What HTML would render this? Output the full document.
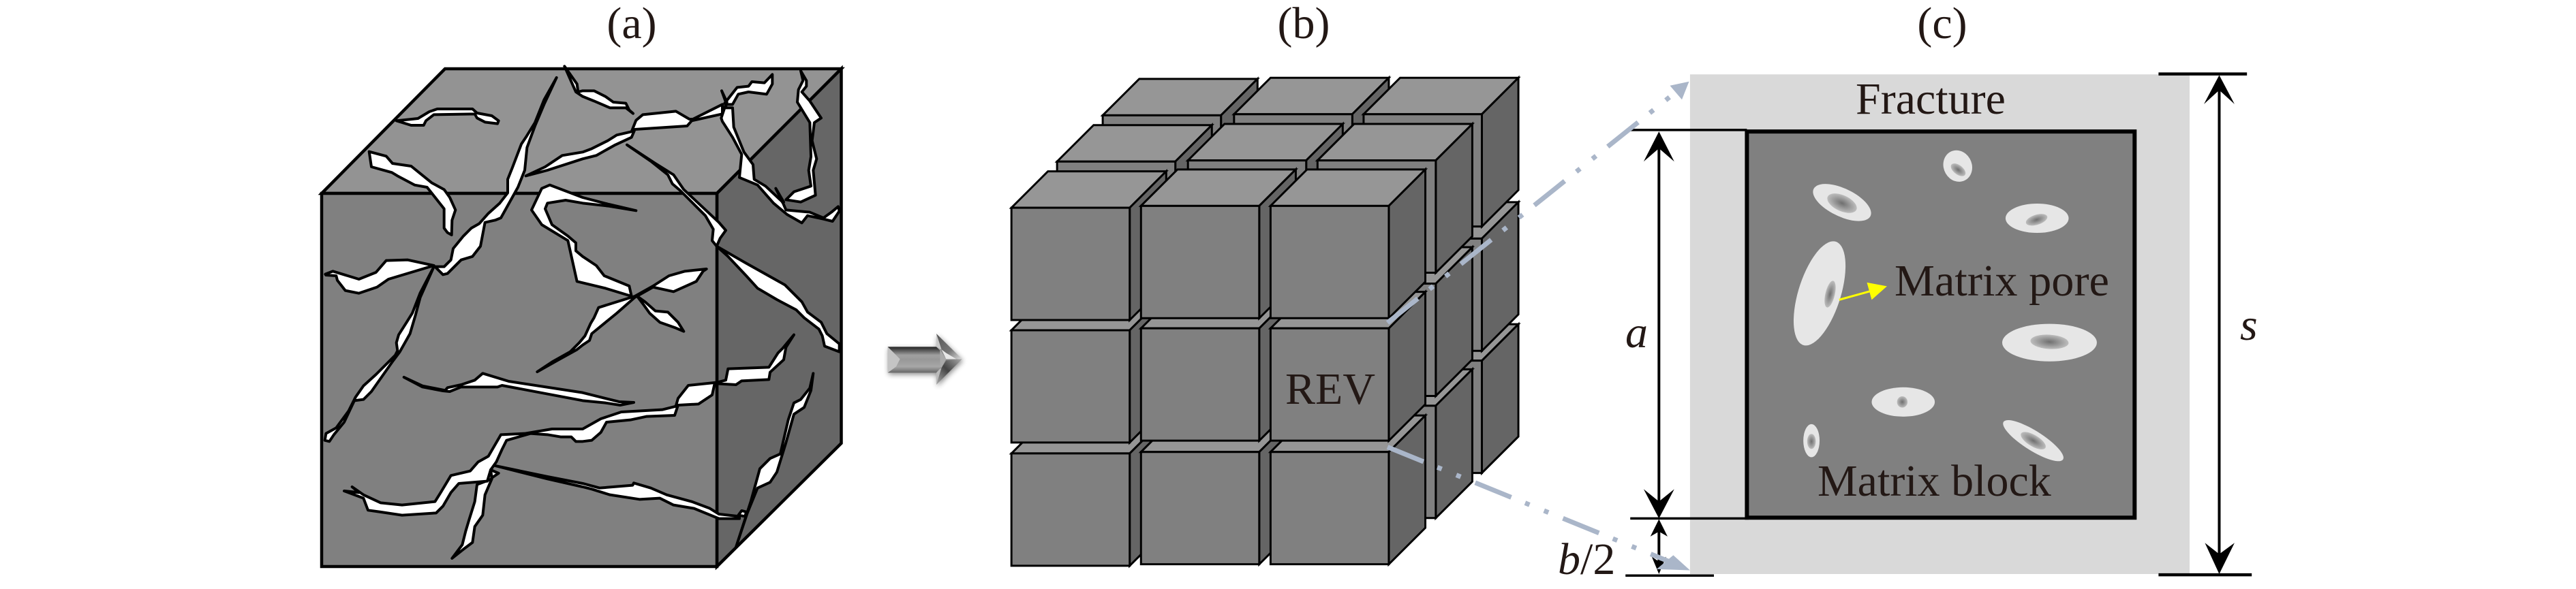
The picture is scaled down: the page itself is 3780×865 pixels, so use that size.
<!DOCTYPE html>
<html><head><meta charset="utf-8"><style>
html,body{margin:0;padding:0;background:#fff}
svg{display:block}
text{font-family:"Liberation Serif",serif;fill:#231815;font-size:66px}
.f polygon{fill:#fff;stroke:#000;stroke-width:4;stroke-linejoin:round;vector-effect:non-scaling-stroke}
.c polygon,.c rect{stroke:#000;stroke-width:3;stroke-linejoin:miter;vector-effect:non-scaling-stroke}
.k line{stroke:#000;vector-effect:non-scaling-stroke}
.k polygon{fill:#000}
.o{fill:#e6e6e6}
.i{fill:url(#rg)}
</style></head><body>
<svg xmlns="http://www.w3.org/2000/svg" width="3780" height="865" viewBox="0 0 3780 865">
<defs>
<g id="cube" class="c">
<polygon fill="#969696" points="0,0 84,-97 356,-97 272,0"/>
<polygon fill="#656565" points="272,0 356,-97 356,202 272,299"/>
<rect fill="#808080" x="0" y="0" width="272" height="299"/>
</g>
<radialGradient id="rg"><stop offset="0" stop-color="#6f6f6f"/><stop offset="1" stop-color="#bdbdbd"/></radialGradient>
<linearGradient id="t1" x1="0" y1="0" x2="0" y2="1"><stop offset="0" stop-color="#222"/><stop offset="1" stop-color="#a0a0a0"/></linearGradient>
<linearGradient id="t2" x1="0" y1="0" x2="0" y2="1"><stop offset="0" stop-color="#b0b0b0"/><stop offset=".5" stop-color="#989898"/><stop offset="1" stop-color="#b4b4b4"/></linearGradient>
<linearGradient id="t3" x1="0" y1="0" x2="0" y2="1"><stop offset="0" stop-color="#a8a8a8"/><stop offset="1" stop-color="#666"/></linearGradient>
<linearGradient id="t4" x1="0" y1="0" x2="1" y2="1"><stop offset="0" stop-color="#555"/><stop offset=".6" stop-color="#777"/><stop offset="1" stop-color="#ddd"/></linearGradient>
<linearGradient id="t5" x1="0" y1="1" x2="1" y2="0"><stop offset="0" stop-color="#aaa"/><stop offset=".5" stop-color="#444"/><stop offset="1" stop-color="#aaa"/></linearGradient>
<filter id="bl" x="-30%" y="-30%" width="160%" height="160%"><feGaussianBlur stdDeviation="12"/></filter>
</defs>

<!-- Panel a -->
<g stroke="#000" stroke-width="4.5" stroke-linejoin="miter">
<polygon fill="#939393" points="472,284 653,101 1234.5,101 1052,284"/>
<polygon fill="#666666" points="1052,284 1234.5,101 1234.5,651 1052,832"/>
<rect fill="#808080" x="472" y="284" width="580" height="548"/>
</g>
<g class="f" transform="translate(470,90) scale(.33333)">
<polygon points="335,262 430,252 480,222 515,210 670,210 690,228 755,240 785,262 780,275 725,268 690,250 680,232 500,235 465,262 455,282 400,282"/>
<polygon points="215,398 290,418 318,450 400,462 490,535 545,565 570,600 595,655 580,700 578,765 560,755 545,735 545,650 490,580 470,555 415,545 340,505 315,490 225,465"/>
<polygon points="1040,72 985,170 945,270 905,335 885,365 845,470 825,520 825,580 790,625 740,670 700,715 665,735 630,770 585,825 575,875 545,905 505,905 540,940 560,935 620,875 670,860 705,815 725,710 770,700 795,690 870,555 900,480 910,380 945,285 985,190"/>
<polygon points="500,905 440,1020 405,1110 380,1150 345,1205 335,1240 340,1275 330,1295 245,1380 190,1430 155,1480 125,1540 70,1615 25,1640 20,1670 40,1675 60,1645 105,1590 150,1495 190,1490 225,1455 320,1320 350,1280 395,1200 420,1115 440,1040"/>
<polygon points="22,938 55,925 170,960 245,930 290,878 385,875 500,900 300,960 250,995 170,1022 110,1010 75,965 70,945 25,942"/>
<polygon points="905,505 990,465 1065,415 1155,400 1195,385 1265,350 1305,325 1370,310 1390,260 1420,235 1565,220 1625,255 1640,255 1770,190 1770,232 1635,262 1615,285 1385,300 1370,335 1295,370 1215,415 1155,430 1000,480"/>
<polygon points="1075,22 1130,100 1135,135 1155,130 1205,130 1255,155 1290,180 1345,185 1360,215 1377,230 1345,205 1275,205 1205,175 1155,155 1125,135"/>
<polygon points="1780,185 1835,115 1885,110 1900,90 1955,95 1990,58 1990,100 1965,145 1885,135 1840,145 1815,190 1785,190"/>
<polygon points="1767,130 1785,180 1778,230 1790,180"/>
<polygon points="1765,250 1780,205 1815,205 1820,290 1865,400 1905,455 1910,520 1960,550 2035,620 2050,655 2155,665 2215,690 2250,665 2280,640 2285,660 2255,705 2215,695 2145,680 2120,712 2055,675 1995,625 1925,545 1845,512 1855,410 1815,335 1770,265"/>
<polygon points="2005,560 2040,620 2035,622"/>
<polygon points="2115,42 2140,85 2140,110 2120,135 2155,175 2205,250 2175,270 2165,350 2185,430 2170,480 2180,590 2115,620 2050,610 2085,575 2160,550 2150,480 2160,420 2155,270 2100,180 2105,125 2125,85"/>
<polygon points="1350,368 1475,450 1555,500 1600,565 1755,710 1785,745 1760,780 1745,815 1875,890 2045,985 2120,1060 2145,1105 2205,1150 2230,1200 2285,1245 2285,1280 2220,1255 2210,1210 2195,1180 2130,1130 2095,1095 2010,1050 1925,1000 1875,945 1795,860 1745,815 1725,790 1730,740 1695,680 1585,570 1550,540 1530,500 1455,440"/>
<polygon points="1390,658 1270,630 1155,600 1010,545 975,560 930,655 975,720 1090,790 1110,880 1130,970 1255,1000 1370,1035 1360,990 1250,945 1215,900 1155,860 1125,835 1125,800 1090,770 1020,720 990,650 1000,625 1080,612 1155,625 1270,638"/>
<polygon points="1700,915 1605,925 1535,945 1465,990 1385,1035 1225,1085 1205,1130 1190,1155 1165,1210 1140,1240 1100,1280 1020,1325 955,1368 1040,1320 1130,1270 1155,1250 1185,1230 1195,1200 1305,1110 1385,1040 1465,995 1555,1015 1655,970 1685,925"/>
<polygon points="1395,1035 1430,1060 1475,1100 1530,1105 1575,1150 1600,1190 1565,1175 1495,1150 1450,1110 1425,1075"/>
<polygon points="368,1392 450,1430 550,1450 560,1438 620,1425 680,1405 715,1375 830,1410 1155,1460 1215,1475 1315,1500 1380,1503 1320,1515 1255,1505 1155,1495 800,1428 780,1435 620,1435 570,1455 540,1452 450,1435"/>
<polygon points="690,1865 680,1940 655,2020 640,2070 625,2130 580,2190 630,2150 670,2120 680,2050 715,2000 725,1910 755,1840"/>
<polygon points="105,1893 170,1900 140,1875 190,1910 265,1945 360,1955 505,1940 530,1900 575,1825 660,1805 695,1765 740,1740 795,1645 900,1640 1020,1620 1155,1620 1235,1575 1325,1545 1505,1535 1565,1520 1575,1485 1620,1428 1745,1415 1785,1405 1795,1355 1975,1348 2015,1285 2035,1265 2085,1205 2050,1260 2040,1315 1980,1370 1975,1402 1855,1408 1830,1425 1745,1420 1735,1425 1725,1470 1665,1510 1575,1515 1560,1560 1435,1565 1365,1580 1260,1590 1235,1635 1195,1670 1155,1675 1125,1675 1105,1655 1060,1655 1000,1645 925,1640 820,1670 800,1710 775,1765 750,1800 735,1850 610,1860 575,1900 540,1960 510,1990 360,2000 260,1985 210,1978 190,1925"/>
<polygon points="750,1800 785,1815 755,1835"/>
<polygon points="770,1782 1000,1830 1155,1860 1230,1880 1375,1868 1380,1858 1455,1880 1525,1910 1635,1940 1715,1970 1755,1995 1845,2005 1845,2015 1755,2015 1645,1970 1555,1955 1495,1925 1405,1930 1275,1910 1195,1885 1155,1875 1000,1840"/>
<polygon points="2170,1375 2155,1440 2115,1490 2085,1505 2060,1580 2025,1730 1980,1750 1935,1795 1895,1940 1830,2140 1880,1990 1925,1880 1980,1855 2010,1810 2050,1680 2085,1555 2130,1525 2160,1450"/>
<polygon points="1840,2000 1855,1980 1875,1985 1870,2005"/>
</g>

<!-- Block arrow -->
<g transform="translate(1300,470) scale(.33333)">
<polygon points="8,118 222,118 222,60 335,172 222,285 222,232 8,232" fill="#000" opacity=".45" filter="url(#bl)" transform="translate(4,8)"/>
<rect x="8" y="118" width="230" height="114" fill="url(#t2)"/>
<polygon points="8,118 222,118 245,140 248,155 45,155" fill="url(#t1)"/>
<polygon points="8,232 45,205 245,205 222,232" fill="url(#t3)"/>
<polygon points="8,118 45,155 62,172 45,205 8,232" fill="#c4c4c4"/>
<polygon points="222,60 245,130 222,118" fill="#c8c8c8"/>
<polygon points="222,285 245,210 222,232" fill="#bbb"/>
<polygon points="222,60 335,172 265,172 245,130" fill="url(#t4)"/>
<polygon points="335,172 265,178 245,210 222,285" fill="url(#t5)"/>
<polygon points="238,130 265,172 245,210 238,205" fill="#aaa"/>
<polygon points="245,130 265,172 310,172 265,145" fill="#e8e8e8"/>
</g>

<!-- Panel b -->
<g transform="translate(1280,0) scale(.638,.5517)">
<use href="#cube" x="530" y="960"/><use href="#cube" x="832" y="960"/><use href="#cube" x="1130" y="960"/>
<use href="#cube" x="530" y="635"/><use href="#cube" x="832" y="635"/><use href="#cube" x="1130" y="635"/>
<use href="#cube" x="530" y="307"/><use href="#cube" x="832" y="304"/><use href="#cube" x="1130" y="304"/>
<use href="#cube" x="425" y="1080"/><use href="#cube" x="726" y="1080"/><use href="#cube" x="1024" y="1080"/>
<use href="#cube" x="425" y="755"/><use href="#cube" x="726" y="755"/><use href="#cube" x="1024" y="755"/>
<use href="#cube" x="425" y="430"/><use href="#cube" x="726" y="427"/><use href="#cube" x="1024" y="427"/>
<use href="#cube" x="320" y="1207"/><use href="#cube" x="618" y="1203"/><use href="#cube" x="916" y="1203"/>
<use href="#cube" x="320" y="879"/><use href="#cube" x="618" y="874"/><use href="#cube" x="916" y="874"/>
<use href="#cube" x="320" y="553"/><use href="#cube" x="618" y="548"/><use href="#cube" x="916" y="548"/>
</g>

<!-- Panel c -->
<g transform="translate(2280,0) scale(.7015,.5517)">
<rect x="285" y="198" width="1045" height="1330" fill="#d9d9d9"/>
<rect x="404" y="350" width="811" height="1028" fill="#808080" stroke="#000" stroke-width="6" style="vector-effect:non-scaling-stroke"/>
<ellipse class="o" cx="845" cy="442" rx="30" ry="42" transform="rotate(-8 845 442)"/>
<ellipse class="i" cx="846" cy="452" rx="11" ry="20" transform="rotate(-40 846 452)"/>
<ellipse class="o" cx="603" cy="539" rx="70" ry="35" transform="rotate(35 603 539)"/>
<ellipse class="i" cx="603" cy="541" rx="35" ry="20" transform="rotate(35 603 541)"/>
<ellipse class="o" cx="1011" cy="581" rx="66" ry="39"/>
<ellipse class="i" cx="1010" cy="585" rx="24" ry="13" transform="rotate(-25 1010 585)"/>
<ellipse class="o" cx="556" cy="781" rx="45" ry="142" transform="rotate(13 556 781)"/>
<ellipse class="i" cx="578" cy="783" rx="10" ry="36" transform="rotate(10 578 783)"/>
<ellipse class="o" cx="1037" cy="912" rx="99" ry="50"/>
<ellipse class="i" cx="1037" cy="910" rx="40" ry="19" transform="rotate(5 1037 910)"/>
<ellipse class="o" cx="731" cy="1070" rx="66" ry="39"/>
<ellipse class="i" cx="729" cy="1070" rx="11" ry="15"/>
<ellipse class="o" cx="539" cy="1173" rx="17" ry="44"/>
<ellipse class="i" cx="539" cy="1175" rx="9" ry="20"/>
<ellipse class="o" cx="1003" cy="1173" rx="80" ry="24" transform="rotate(40 1003 1173)"/>
<ellipse class="i" cx="1003" cy="1173" rx="32" ry="14" transform="rotate(40 1003 1173)"/>
<line x1="597" y1="798" x2="665" y2="774" stroke="#ffff00" stroke-width="3" style="vector-effect:non-scaling-stroke"/>
<polygon points="655,752 697,762 665,798" fill="#ffff00"/>
<g class="k">
<line x1="160" y1="346" x2="404" y2="346" stroke-width="3.5"/>
<line x1="160" y1="1380" x2="408" y2="1380" stroke-width="3.5"/>
<line x1="150" y1="1532" x2="335" y2="1532" stroke-width="3.5"/>
<line x1="1265" y1="197" x2="1450" y2="197" stroke-width="4.5"/>
<line x1="1265" y1="1530" x2="1460" y2="1530" stroke-width="4.5"/>
<line x1="220" y1="360" x2="220" y2="1370" stroke-width="4"/>
<line x1="220" y1="1390" x2="220" y2="1520" stroke-width="4"/>
<line x1="1392" y1="210" x2="1392" y2="1520" stroke-width="4"/>
<polygon points="220,350 188,430 220,395 252,430"/>
<polygon points="220,1380 188,1302 220,1335 252,1302"/>
<polygon points="220,1382 202,1428 220,1415 238,1428"/>
<polygon points="220,1528 205,1482 220,1495 235,1482"/>
<polygon points="1392,200 1360,277 1392,240 1424,277"/>
<polygon points="1392,1528 1362,1445 1392,1475 1424,1445"/>
</g>
<polygon points="283,217 243,228 268,265" fill="#aab6c9"/>
<polygon points="285,1518 215,1515 250,1478" fill="#aab6c9"/>
</g>

<!-- Dash-dot connectors -->
<line x1="2036" y1="474" x2="2462" y2="133" stroke="#aab6c9" stroke-width="7" stroke-dasharray="57 22 7 23 7 22"/>
<line x1="2036" y1="656.5" x2="2455" y2="827" stroke="#aab6c9" stroke-width="7" stroke-dasharray="57 22 7 23 7 23"/>

<!-- Labels -->
<text x="927" y="56" text-anchor="middle">(a)</text>
<text x="1913" y="56" text-anchor="middle">(b)</text>
<text x="2850" y="56" text-anchor="middle">(c)</text>
<text x="1886" y="593">REV</text>
<text x="2833" y="167" text-anchor="middle">Fracture</text>
<text x="2780" y="434" textLength="315" lengthAdjust="spacingAndGlyphs">Matrix pore</text>
<text x="2667" y="728">Matrix block</text>
<text x="2385" y="510" font-style="italic">a</text>
<text x="3287" y="499" font-style="italic">s</text>
<text x="2286" y="843"><tspan font-style="italic">b</tspan>/2</text>
</svg>
</body></html>
